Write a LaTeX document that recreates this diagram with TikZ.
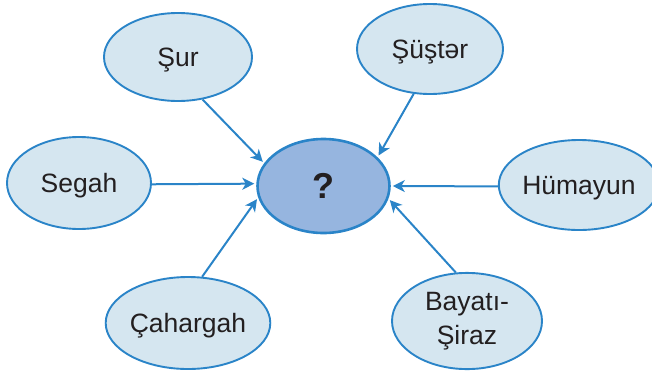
\documentclass[tikz,border=0pt]{standalone}
\usepackage{fontspec}
\setmainfont{Liberation Sans}
\usetikzlibrary{shapes.geometric,arrows.meta}
\definecolor{edgeblue}{HTML}{2A84C8}
\definecolor{lightfill}{HTML}{D5E6F0}
\definecolor{midfill}{HTML}{96B5DF}
\definecolor{txt}{HTML}{231F20}
\tikzset{
  leaf/.style={ellipse, draw=edgeblue, line width=1.9pt, fill=lightfill, inner sep=0pt,
    text=txt, font=\fontsize{26.5}{34}\selectfont, text height=19pt, text depth=0pt},
  hub/.style={ellipse, draw=edgeblue, line width=2.6pt, fill=midfill, inner sep=0pt,
    text=txt, font=\fontsize{36}{40}\selectfont\bfseries},
  link/.style={draw=edgeblue, line width=2pt, shorten >=2pt,
    -{Stealth[length=12pt,width=12pt,inset=3.5pt]}}
}
\begin{document}
\begin{tikzpicture}[x=1pt,y=-1pt]
\useasboundingbox (0,0) rectangle (652,372);
\node[hub, minimum width=132pt, minimum height=94pt] (q) at (323.5,186) {?};
\node[leaf, minimum width=148pt, minimum height=88pt] (sur) at (178,57) {Şur};
\node[leaf, minimum width=146pt, minimum height=90pt] (sus) at (430,49) {Şüştər};
\node[leaf, minimum width=144pt, minimum height=92pt] (seg) at (79,183) {Segah};
\node[leaf, minimum width=143pt, minimum height=90pt] (hum) at (579,185) {Hümayun};
\node[leaf, minimum width=152pt, minimum height=92pt] (cah) at (188,323) {Çahargah};
\node[leaf, minimum width=150pt, minimum height=96pt, text height=, text depth=] (bay) at (467,321)
  {\raisebox{-6pt}{\begin{tabular}{@{}c@{}}Bayatı-\\Şiraz\end{tabular}}};
\draw[link] (sur.-60) -- (q.159);
\draw[link] (sus.-110) -- (q.28);
\draw[link] (seg.-1.5) -- (q.178);
\draw[link] (hum.181) -- (q.0);
\draw[link] (cah.73) -- (q.190);
\draw[link] (bay.103) -- (q.-11);
\end{tikzpicture}
\end{document}
